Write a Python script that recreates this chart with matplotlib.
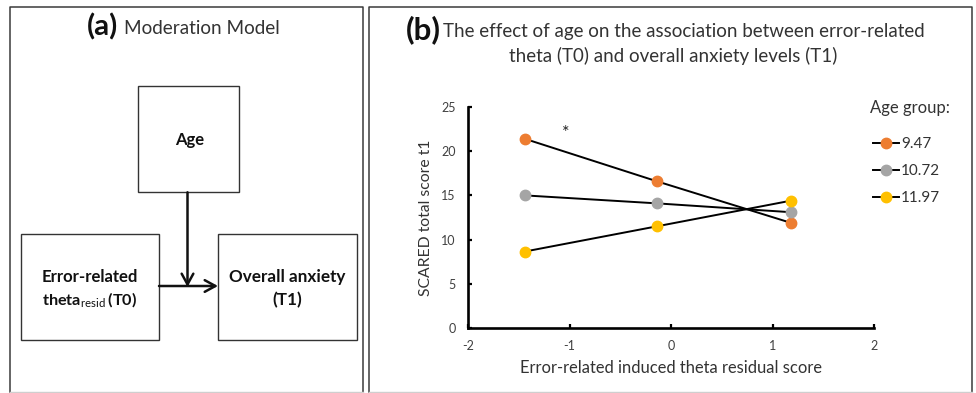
import matplotlib
matplotlib.use("Agg")
import matplotlib.pyplot as plt
from matplotlib.patches import Rectangle

plt.rcParams['font.family'] = ['Lato', 'DejaVu Sans']
plt.rcParams['mathtext.fontset'] = 'custom'
plt.rcParams['mathtext.rm'] = 'Lato'
plt.rcParams['mathtext.bf'] = 'Lato:bold'

# ---- data ----
x_vals = [-1.44, -0.14, 1.18]
age_groups = ['9.47', '10.72', '11.97']
scared_947 = [21.4, 16.6, 11.9]
scared_1072 = [15.0, 14.1, 13.1]
scared_1197 = [8.65, 11.5, 14.4]
series = [scared_947, scared_1072, scared_1197]
colors = ['#ED7D31', '#A5A5A5', '#FFC000']
x_ticks = [-2, -1, 0, 1, 2]
y_ticks = [0, 5, 10, 15, 20, 25]
sig_marker = (-1.04, 22.1)

W, H = 976, 393
fig = plt.figure(figsize=(W / 100, H / 100), dpi=100)
fig.patch.set_facecolor('white')

# overlay in pixel coordinates
ov = fig.add_axes([0, 0, 1, 1], zorder=0)
ov.set_xlim(0, W)
ov.set_ylim(H, 0)
ov.axis('off')

renderer = fig.canvas.get_renderer()


def fit(t, target, vertical=False):
    bb = t.get_window_extent(renderer)
    w = bb.height if vertical else bb.width
    t.set_fontsize(t.get_fontsize() * target / w)
    return t


dark = '#3a3a3a'
# panel frames
for (x0, x1) in [(10, 363), (369, 972)]:
    ov.plot([x0, x0, x1, x1], [392, 7, 7, 392], color=dark, lw=1.1)
    ov.plot([x0, x1], [392, 392], color='#cfcfcf', lw=1.0)

# ---- panel (a) ----
fit(ov.text(87, 27, '(a)', fontweight='bold', ha='left', va='center',
            fontsize=16, color='#111111'), 31)
fit(ov.text(124, 28, 'Moderation Model', ha='left', va='center',
            fontsize=13, color='#333333'), 155)

box_kw = dict(fill=False, edgecolor='#333333', lw=1.0)
ov.add_patch(Rectangle((137.7, 85.7), 101.6, 106.6, **box_kw))
ov.add_patch(Rectangle((20.7, 234.3), 138.3, 105.7, **box_kw))
ov.add_patch(Rectangle((217.7, 234.3), 139.3, 105.7, **box_kw))

fit(ov.text(190, 140, 'Age', fontweight='bold', ha='center', va='center',
            fontsize=12, color='#111111'), 29)
t1 = fit(ov.text(89.5, 277, 'Error-related', fontweight='bold', ha='center',
                 va='center', fontsize=12, color='#111111'), 97)
t2 = ov.text(89.5, 300, r'$\mathbf{theta}_{\mathrm{resid}}\mathbf{\,(T0)}$',
             ha='center', va='center', fontsize=t1.get_fontsize(), color='#111111')
fit(t2, 95)
t3 = fit(ov.text(287, 277, 'Overall anxiety', fontweight='bold', ha='center',
                 va='center', fontsize=12, color='#111111'), 115)
ov.text(287, 300, '(T1)', fontweight='bold', ha='center', va='center',
        fontsize=t3.get_fontsize(), color='#111111')

arrow_kw = dict(arrowstyle='->,head_length=0.55,head_width=0.3', lw=1.8,
                color='#111111', shrinkA=0, shrinkB=0, mutation_scale=14)
ov.annotate('', xy=(187.5, 287), xytext=(187.5, 192.3), arrowprops=arrow_kw)
ov.annotate('', xy=(218, 286), xytext=(159, 286), arrowprops=arrow_kw)

# ---- panel (b) ----
fit(ov.text(406, 30, '(b)', fontweight='bold', ha='left', va='center',
            fontsize=16, color='#111111'), 35)
tb1 = fit(ov.text(443, 31, 'The effect of age on the association between error-related',
                  ha='left', va='center', fontsize=12, color='#333333'), 482)
tb2 = ov.text(673, 56, 'theta (T0) and overall anxiety levels (T1)', ha='center',
              va='center', fontsize=tb1.get_fontsize(), color='#333333')

ax = fig.add_axes([468 / W, 1 - 328 / H, (874 - 468) / W, (328 - 107) / H], zorder=2)
ax.set_facecolor('none')
for vals, c, lab in zip(series, colors, age_groups):
    ax.plot(x_vals, vals, color='black', lw=1.4, marker='o', markersize=7.5,
            markerfacecolor=c, markeredgecolor=c, label=lab, zorder=3)
ax.text(sig_marker[0], sig_marker[1], '*', ha='center', va='center',
        fontsize=13, color='#222222')

ax.set_xlim(-2, 2)
ax.set_ylim(0, 25)
ax.set_xticks(x_ticks)
ax.set_yticks(y_ticks)
ax.set_xticklabels([str(v) for v in x_ticks])
ax.set_yticklabels([str(v) for v in y_ticks])
for s in ['top', 'right']:
    ax.spines[s].set_visible(False)
for s in ['left', 'bottom']:
    ax.spines[s].set_linewidth(1.9)
    ax.spines[s].set_color('black')
ax.tick_params(direction='in', length=3, width=1.6, labelsize=9,
               labelcolor='#404040', pad=9)

ax.set_xlabel('Error-related induced theta residual score', fontsize=10,
              color='#333333', va='center')
ax.xaxis.set_label_coords(0.5, (328 - 368) / 221)
ax.set_ylabel('SCARED total score t1', fontsize=10, color='#333333', va='center')
ax.yaxis.set_label_coords((425.5 - 468) / 406, 0.5)
fit(ax.xaxis.label, 303)
fit(ax.yaxis.label, 157, vertical=True)

# legend title + entries
fit(ov.text(870.5, 108, 'Age group:', ha='left', va='center', fontsize=11,
            color='#333333'), 80)
leg = ax.legend(loc='upper left', frameon=False,
                bbox_to_anchor=(873 / W, 1 - 137 / H), bbox_transform=fig.transFigure,
                fontsize=11, handlelength=1.7,
                handletextpad=0.12, labelspacing=0.85, borderpad=0, borderaxespad=0,
                markerscale=1.0)
for t in leg.get_texts():
    t.set_color('#333333')

fig.savefig('out.png', dpi=100, facecolor='white')
